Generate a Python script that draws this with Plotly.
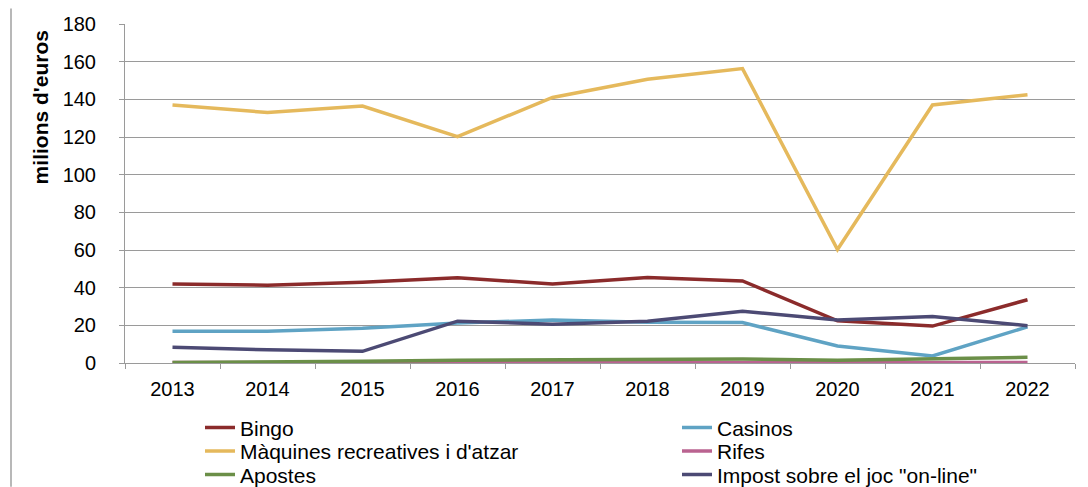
import plotly.graph_objects as go

years = ["2013", "2014", "2015", "2016", "2017", "2018", "2019", "2020", "2021", "2022"]
bingo = [42.0, 41.3, 42.9, 45.2, 42.0, 45.4, 43.6, 22.4, 19.6, 33.6]
casinos = [16.8, 16.8, 18.4, 21.3, 22.8, 21.7, 21.5, 9.0, 3.7, 19.2]
maquines = [137.0, 133.0, 136.4, 120.2, 141.0, 150.7, 156.3, 60.3, 137.0, 142.4]
rifes = [0.2, 0.2, 0.2, 0.2, 0.2, 0.2, 0.2, 0.1, 0.2, 0.2]
apostes = [0.3, 0.5, 0.9, 1.5, 1.7, 2.1, 2.1, 1.5, 2.1, 3.0]
impost = [8.3, 7.0, 6.2, 22.2, 20.6, 22.2, 27.5, 22.8, 24.7, 19.8]

series = [
    ("Bingo", bingo, "#8B2B2B"),
    ("Casinos", casinos, "#5FA3C4"),
    ("Màquines recreatives i d'atzar", maquines, "#E5B95C"),
    ("Rifes", rifes, "#BA6390"),
    ("Apostes", apostes, "#6B8F48"),
    ("Impost sobre el joc \"on-line\"", impost, "#4C4A74"),
]

# page has an 8px body margin, so the figure is drawn 8px smaller
W, H = 1080, 479
ml, mr, mt, mb = 117, 13, 15.5, 124
pw = W - ml - mr
ph = H - mt - mb
plot_bottom = H - mb

font = "Liberation Sans, Arial, sans-serif"
grid = "#9a9a9a"
fs = 20
lfs = 21

# legend grid: two columns, three rows (figure pixel positions)
col_x = [192, 669]
row_y = [420, 443.5, 467]

fig = go.Figure()
legends = {}
for i, (name, vals, color) in enumerate(series):
    key = "legend" if i == 0 else f"legend{i + 1}"
    fig.add_trace(go.Scatter(
        x=years, y=vals, name=name, mode="lines",
        line=dict(color=color, width=3.5), legend=key,
    ))
    legends[key] = dict(
        orientation="h",
        x=(col_x[i % 2] - ml) / pw, y=(plot_bottom - row_y[i // 2]) / ph,
        xanchor="left", yanchor="middle",
        font=dict(family=font, size=lfs, color="#000"),
        bgcolor="rgba(0,0,0,0)", borderwidth=0,
    )

fig.update_layout(
    width=W, height=H,
    margin=dict(l=ml, r=mr, t=mt, b=mb, autoexpand=False),
    paper_bgcolor="white", plot_bgcolor="white",
    font=dict(family=font, size=fs, color="#000"),
    showlegend=True,
    xaxis=dict(
        type="category", range=[-0.5, 9.5],
        showgrid=False, showline=True, linecolor=grid, linewidth=1,
        ticks="outside", tickson="boundaries", ticklen=5, tickcolor=grid,
        ticklabelstandoff=8,
        tickfont=dict(family=font, size=fs, color="#000"),
    ),
    yaxis=dict(
        range=[0, 180], dtick=20, tick0=0,
        showgrid=True, gridcolor=grid, gridwidth=1,
        showline=True, linecolor=grid, linewidth=1,
        ticks="outside", ticklen=5, tickcolor=grid,
        ticklabelstandoff=19,
        zeroline=False,
        tickfont=dict(family=font, size=fs, color="#000"),
    ),
    annotations=[dict(
        text="<b>milions d'euros</b>", textangle=-90,
        xref="paper", yref="paper",
        x=(32 - ml) / pw, y=(plot_bottom - 99) / ph,
        xanchor="center", yanchor="middle", showarrow=False,
        font=dict(family=font, size=21, color="#000"),
    )],
    shapes=[dict(
        type="line", xref="paper", yref="paper",
        x0=(3 - ml) / pw, x1=(3 - ml) / pw,
        y0=plot_bottom / ph, y1=(plot_bottom - H) / ph,
        line=dict(color="#a0a0a0", width=1.5),
    )],
)
fig.update_layout(**legends)

fig.write_html("out.html")
